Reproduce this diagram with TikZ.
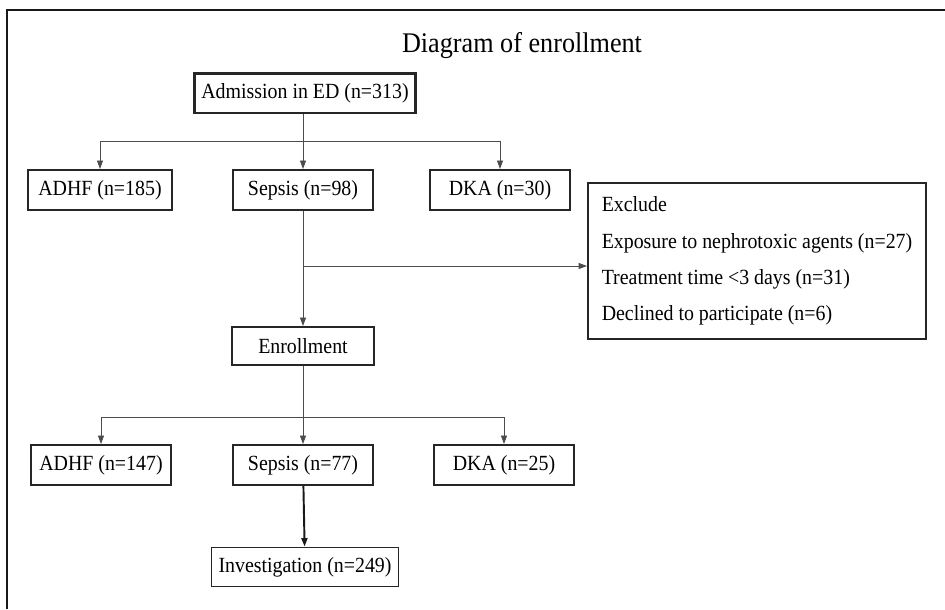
\documentclass[tikz,border=0pt]{standalone}
\usepackage{fontspec}
\setmainfont[FakeStretch=0.92]{Liberation Serif}
\usetikzlibrary{arrows.meta}

\begin{document}
\begin{tikzpicture}[x=0.02cm,y=-0.02cm,
    box/.style={draw=black!85,line width=1.1pt,minimum height=0.8cm,inner sep=0pt,
      font=\fontsize{12.3}{14}\selectfont},
    link/.style={draw=black!70,line width=0.5pt},
    arr/.style={link,-{Triangle[length=1.7mm,width=1.2mm]}}]

        \useasboundingbox (0,0) rectangle (945,609);
        \draw[line width=1.7pt,black!90] (7,609) -- (7,10) -- (945,10);

        \node (title) at (522,46) {\fontsize{16.2}{18}\selectfont Diagram of enrollment};

        \begin{scope}[every node/.style={box}]
          \node[line width=1.7pt,minimum width=4.44cm] (adm) at (305,93) {Admission in ED (n=313)};
          \node[minimum width=2.88cm] (adhf1) at (100,190) {ADHF (n=185)};
          \node[minimum width=2.8cm]  (sep1)  at (303,190) {Sepsis (n=98)};
          \node[minimum width=2.8cm]  (dka1)  at (500,190) {DKA (n=30)};
          \node[minimum width=2.84cm,minimum height=0.76cm] (enr) at (303,346) {Enrollment};
          \node[minimum width=2.8cm]  (adhf2) at (101,465) {ADHF (n=147)};
          \node[minimum width=2.8cm]  (sep2)  at (303,465) {Sepsis (n=77)};
          \node[minimum width=2.8cm]  (dka2)  at (504,465) {DKA (n=25)};
          \node[minimum width=3.74cm,minimum height=0.78cm] (inv) at (305,567) {Investigation (n=249)};
          \node[minimum width=6.76cm,minimum height=3.12cm,align=left,
            font=\fontsize{12.3}{20.6}\selectfont] (excl) at (757,261)
            {Exclude\\
             Exposure to nephrotoxic agents (n=27)\\
             Treatment time <3 days (n=31)\\
             Declined to participate (n=6)};
        \end{scope}

        \coordinate (fork1) at (303,141);
        \coordinate (fork2) at (303,266);
        \coordinate (fork3) at (303,417);

        % admission to the three groups
        \draw[link] (adm.south -| fork1) -- (fork1);
        \draw[arr] (fork1) -| (adhf1.north);
        \draw[arr] (fork1) -- (sep1);
        \draw[arr] (fork1) -| (dka1.north);

        % exclusion and enrollment
        \draw[link] (sep1) -- (fork2);
        \draw[arr] (fork2) -- (fork2 -| excl.west);
        \draw[arr] (fork2) -- (enr);

        \draw[link] (enr) -- (fork3);
        \draw[arr] (fork3) -| (adhf2.north);
        \draw[arr] (fork3) -- (sep2);
        \draw[arr] (fork3) -| (dka2.north);

        \draw[arr,line width=1.1pt,draw=black!90] (sep2) -- (inv);

      \end{tikzpicture}
\end{document}
